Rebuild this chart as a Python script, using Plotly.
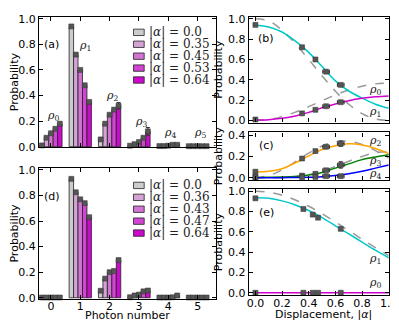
import plotly.graph_objects as go

# photon-number distributions, panels (a) and (d)
photon_n = [0, 1, 2, 3, 4, 5]
alpha_a = [0.0, 0.35, 0.45, 0.53, 0.64]
alpha_d = [0.0, 0.36, 0.43, 0.47, 0.64]
labels_a = ["0.0", "0.35", "0.45", "0.53", "0.64"]
labels_d = ["0.0", "0.36", "0.43", "0.47", "0.64"]

# one row per |alpha|, one column per photon number
prob_a = [
    [0.010, 0.94, 0.057, 0.008, 0.005, 0.004],
    [0.070, 0.72, 0.180, 0.020, 0.005, 0.004],
    [0.105, 0.60, 0.250, 0.037, 0.008, 0.004],
    [0.140, 0.48, 0.290, 0.070, 0.015, 0.004],
    [0.180, 0.35, 0.320, 0.120, 0.015, 0.004],
]
err_a = [
    [0, 0, 0, 0, 0, 0],
    [0, 0, 0, 0, 0, 0],
    [0, 0, 0, 0, 0, 0],
    [0, 0, 0, 0, 0, 0],
    [0, 0, 0.025, 0.03, 0, 0],
]
prob_d = [
    [0.002, 0.93, 0.055, 0.004, 0.002, 0.002],
    [0.002, 0.825, 0.150, 0.018, 0.002, 0.002],
    [0.002, 0.77, 0.200, 0.025, 0.002, 0.002],
    [0.002, 0.74, 0.210, 0.050, 0.004, 0.002],
    [0.002, 0.63, 0.295, 0.057, 0.018, 0.002],
]
alpha_err_a = [0, 0, 0, 0.025, 0.025]

# curves (b), (c), (e)
disp = [0.0, 0.1, 0.2, 0.3, 0.4, 0.5, 0.6, 0.7, 0.8, 0.9, 1.0]
b_rho1_fit = [0.937, 0.92, 0.87, 0.78, 0.67, 0.53, 0.39, 0.29, 0.22, 0.16, 0.12]
b_rho0_fit = [0.005, 0.008, 0.022, 0.045, 0.08, 0.125, 0.163, 0.195, 0.218, 0.233, 0.242]
b_rho1_ideal = [1.0, 0.98, 0.887, 0.755, 0.60, 0.438, 0.287, 0.16, 0.068, 0.016, 0.0]
b_rho0_ideal = [0.0, 0.01, 0.038, 0.082, 0.136, 0.195, 0.251, 0.30, 0.337, 0.36, 0.368]
c_rho2_fit = [0.055, 0.06, 0.085, 0.14, 0.205, 0.265, 0.30, 0.318, 0.308, 0.275, 0.225]
c_rho3_fit = [0.003, 0.004, 0.006, 0.012, 0.025, 0.05, 0.09, 0.13, 0.17, 0.195, 0.215]
c_rho4_fit = [0.0, 0.0, 0.001, 0.002, 0.004, 0.01, 0.02, 0.037, 0.06, 0.09, 0.12]
c_rho2_ideal = [0.0, 0.02, 0.074, 0.15, 0.231, 0.298, 0.338, 0.342, 0.312, 0.255, 0.184]
c_rho3_ideal = [0.0, 0.0, 0.002, 0.011, 0.029, 0.061, 0.105, 0.155, 0.20, 0.234, 0.245]
e_rho1_fit = [0.935, 0.93, 0.905, 0.865, 0.81, 0.74, 0.66, 0.58, 0.50, 0.42, 0.345]
e_rho0_fit = [0.003, 0.003, 0.003, 0.003, 0.003, 0.003, 0.003, 0.003, 0.003, 0.003, 0.003]
e_rho1_ideal = [1.0, 0.99, 0.961, 0.914, 0.852, 0.779, 0.698, 0.613, 0.527, 0.445, 0.368]

bar_colors = ['#cccccc', '#d4a2d4', '#d274d2', '#d244d2', '#cc0acc']
W, H = 399, 320
BW = 0.152
TICKFONT = dict(family="DejaVu Sans", size=11, color="black")
TITLEFONT = dict(family="DejaVu Sans", size=11, color="black")
RHOFONT = dict(family="DejaVu Serif", size=11, color="#222")
MSIZE = 5

fig = go.Figure()


def add_bars(prob, err, xa, ya):
    for i, row in enumerate(prob):
        fig.add_trace(go.Bar(
            x=photon_n, y=row, width=BW, offset=(i - 2.5) * BW,
            marker=dict(color=bar_colors[i], line=dict(color='#222', width=0.8)),
            xaxis=xa, yaxis=ya, showlegend=False))
        fig.add_trace(go.Scatter(
            x=[n + (i - 2) * BW for n in photon_n], y=row, mode='markers',
            marker=dict(symbol='square', size=MSIZE, color='#555',
                        line=dict(color='#333', width=0.5)),
            error_y=dict(type='data', array=err[i] if err else None,
                         visible=bool(err), color='#333', thickness=1, width=2),
            cliponaxis=False, xaxis=xa, yaxis=ya, showlegend=False))


add_bars(prob_a, err_a, 'x', 'y')
add_bars(prob_d, None, 'x2', 'y2')


def add_line(y, color, xa, ya, dash=None):
    fig.add_trace(go.Scatter(
        x=disp, y=y, mode='lines', line=dict(color=color, width=1.5, dash=dash, shape='spline'),
        xaxis=xa, yaxis=ya, showlegend=False))


def add_points(x, y, xa, ya, xerr=None, yerr=None):
    fig.add_trace(go.Scatter(
        x=x, y=y, mode='markers',
        marker=dict(symbol='square', size=MSIZE, color='#555', line=dict(color='#333', width=0.5)),
        error_x=dict(type='data', array=xerr, visible=xerr is not None, color='#333',
                     thickness=1, width=2),
        error_y=dict(type='data', array=yerr, visible=yerr is not None, color='#333',
                     thickness=1, width=2),
        cliponaxis=False, xaxis=xa, yaxis=ya, showlegend=False))


GRAY = '#999999'
# (b)
add_line(b_rho1_ideal, GRAY, 'x3', 'y3', 'dash')
add_line(b_rho0_ideal, GRAY, 'x3', 'y3', 'dash')
add_line(b_rho1_fit, '#00c8c8', 'x3', 'y3')
add_line(b_rho0_fit, '#d000d0', 'x3', 'y3')
add_points(alpha_a, [r[1] for r in prob_a], 'x3', 'y3', xerr=alpha_err_a)
add_points(alpha_a, [r[0] for r in prob_a], 'x3', 'y3', xerr=alpha_err_a)
# (c)
add_line(c_rho2_ideal, GRAY, 'x4', 'y4', 'dash')
add_line(c_rho3_ideal, GRAY, 'x4', 'y4', 'dash')
add_line(c_rho2_fit, '#ffa500', 'x4', 'y4')
add_line(c_rho3_fit, '#008000', 'x4', 'y4')
add_line(c_rho4_fit, '#0000ff', 'x4', 'y4')
for k in (2, 3, 4):
    add_points(alpha_a, [r[k] for r in prob_a], 'x4', 'y4', xerr=alpha_err_a,
               yerr=[e[k] for e in err_a])
# (e)
add_line(e_rho1_ideal, GRAY, 'x5', 'y5', 'dash')
add_line(e_rho1_fit, '#00c8c8', 'x5', 'y5')
add_line(e_rho0_fit, '#d000d0', 'x5', 'y5')
add_points(alpha_d, [r[1] for r in prob_d], 'x5', 'y5')
add_points(alpha_d, [r[0] for r in prob_d], 'x5', 'y5')


def px(x):
    return x / W


def py(y):
    return 1 - y / H


axis_common = dict(showline=True, linecolor='black', linewidth=1.2, mirror='ticks',
                   ticks='inside', ticklen=4, tickcolor='black', showgrid=False,
                   zeroline=False, tickfont=TICKFONT, ticklabeloverflow='allow')

left_x = dict(domain=[px(30), px(212)], range=[-0.4, 5.63], tickvals=photon_n,
              ticklabelstandoff=-3, **axis_common)
right_x = dict(domain=[px(245.5), px(389.5)], range=[-0.05, 1.0], dtick=0.2, tick0=0,
               tickformat='.1f', ticklabelstandoff=-2, **axis_common)
ytitle = dict(text='Probability', font=TITLEFONT, standoff=3)

fig.update_layout(
    width=W, height=H, margin=dict(l=0, r=0, t=0, b=0),
    plot_bgcolor='white', paper_bgcolor='white', barmode='overlay',
    xaxis=dict(anchor='y', showticklabels=False, **left_x),
    yaxis=dict(anchor='x', domain=[py(139.7), py(5)], range=[-0.005, 1.015],
               dtick=0.2, tickformat='.1f', title=ytitle, **axis_common),
    xaxis2=dict(anchor='y2', **left_x),
    yaxis2=dict(anchor='x2', domain=[py(296.3), py(161)], range=[-0.01, 1.015],
                dtick=0.2, tickformat='.1f', title=ytitle, **axis_common),
    xaxis3=dict(anchor='y3', showticklabels=False, **right_x),
    yaxis3=dict(anchor='x3', domain=[py(114.1), py(4.9)], range=[-0.02, 1.02],
                dtick=0.2, tickformat='.1f', title=ytitle, **axis_common),
    xaxis4=dict(anchor='y4', showticklabels=False, **right_x),
    yaxis4=dict(anchor='x4', domain=[py(173.3), py(124.3)], range=[-0.02, 0.425],
                tickvals=[0, 0.2, 0.4], tickformat='.1f', title=ytitle, **axis_common),
    xaxis5=dict(anchor='y5', **right_x),
    yaxis5=dict(anchor='x5', domain=[py(292.1), py(182.9)], range=[-0.02, 1.02],
                dtick=0.2, tickformat='.1f', title=ytitle, **axis_common),
)

ann = []


def label(text, x, y, xa, ya, font, xanchor='center'):
    ann.append(dict(text=text, x=x, y=y, xref=xa, yref=ya, showarrow=False,
                    font=font, xanchor=xanchor, yanchor='middle'))


# x-axis titles sit tight under the tick labels
label('Photon number', px(121), py(313), 'paper', 'paper', TITLEFONT)
label('Displacement, |<i>α</i>|', px(322), py(312), 'paper', 'paper', TITLEFONT)

PANEL = dict(family="DejaVu Sans", size=11, color="black")
label('(a)', 0.03, 0.80, 'x', 'y', PANEL)
label('(d)', 0.03, 0.79, 'x2', 'y2', PANEL)
label('(b)', 0.08, 0.81, 'x3', 'y3', PANEL)
label('(c)', 0.08, 0.30, 'x4', 'y4', PANEL)
label('(e)', 0.08, 0.79, 'x5', 'y5', PANEL)

rho_a = [(0.07, 0.24), (1.17, 0.79), (2.07, 0.40), (3.07, 0.19), (4.07, 0.11), (5.07, 0.11)]
for k, (xx, yy) in enumerate(rho_a):
    label(f'<i>ρ</i><sub>{k}</sub>', xx, yy, 'x', 'y', RHOFONT)
label('<i>ρ</i><sub>0</sub>', 0.9, 0.30, 'x3', 'y3', RHOFONT)
label('<i>ρ</i><sub>1</sub>', 0.9, 0.08, 'x3', 'y3', RHOFONT)
label('<i>ρ</i><sub>2</sub>', 0.9, 0.34, 'x4', 'y4', RHOFONT)
label('<i>ρ</i><sub>3</sub>', 0.9, 0.16, 'x4', 'y4', RHOFONT)
label('<i>ρ</i><sub>4</sub>', 0.9, 0.036, 'x4', 'y4', RHOFONT)
label('<i>ρ</i><sub>1</sub>', 0.9, 0.33, 'x5', 'y5', RHOFONT)
label('<i>ρ</i><sub>0</sub>', 0.9, 0.095, 'x5', 'y5', RHOFONT)

# hand-built legends (plotly's legend rows are too tall for this panel)
shapes = []
LEGFONT = dict(family="DejaVu Serif", size=12, color="#222")
for top, labels in ((21, labels_a), (179, labels_d)):
    for i, txt in enumerate(labels):
        yc = top + i * 12.3
        shapes.append(dict(type='rect', xref='paper', yref='paper',
                           x0=px(127), x1=px(138), y0=py(yc + 3.3), y1=py(yc - 3.3),
                           fillcolor=bar_colors[i], line=dict(color='#222', width=0.8)))
        ann.append(dict(text=f'|<i>α</i>| = {txt}', x=px(141), y=py(yc), xref='paper',
                        yref='paper', showarrow=False, font=LEGFONT,
                        xanchor='left', yanchor='middle'))

fig.update_layout(annotations=ann, shapes=shapes)
fig.write_html("out.html")
